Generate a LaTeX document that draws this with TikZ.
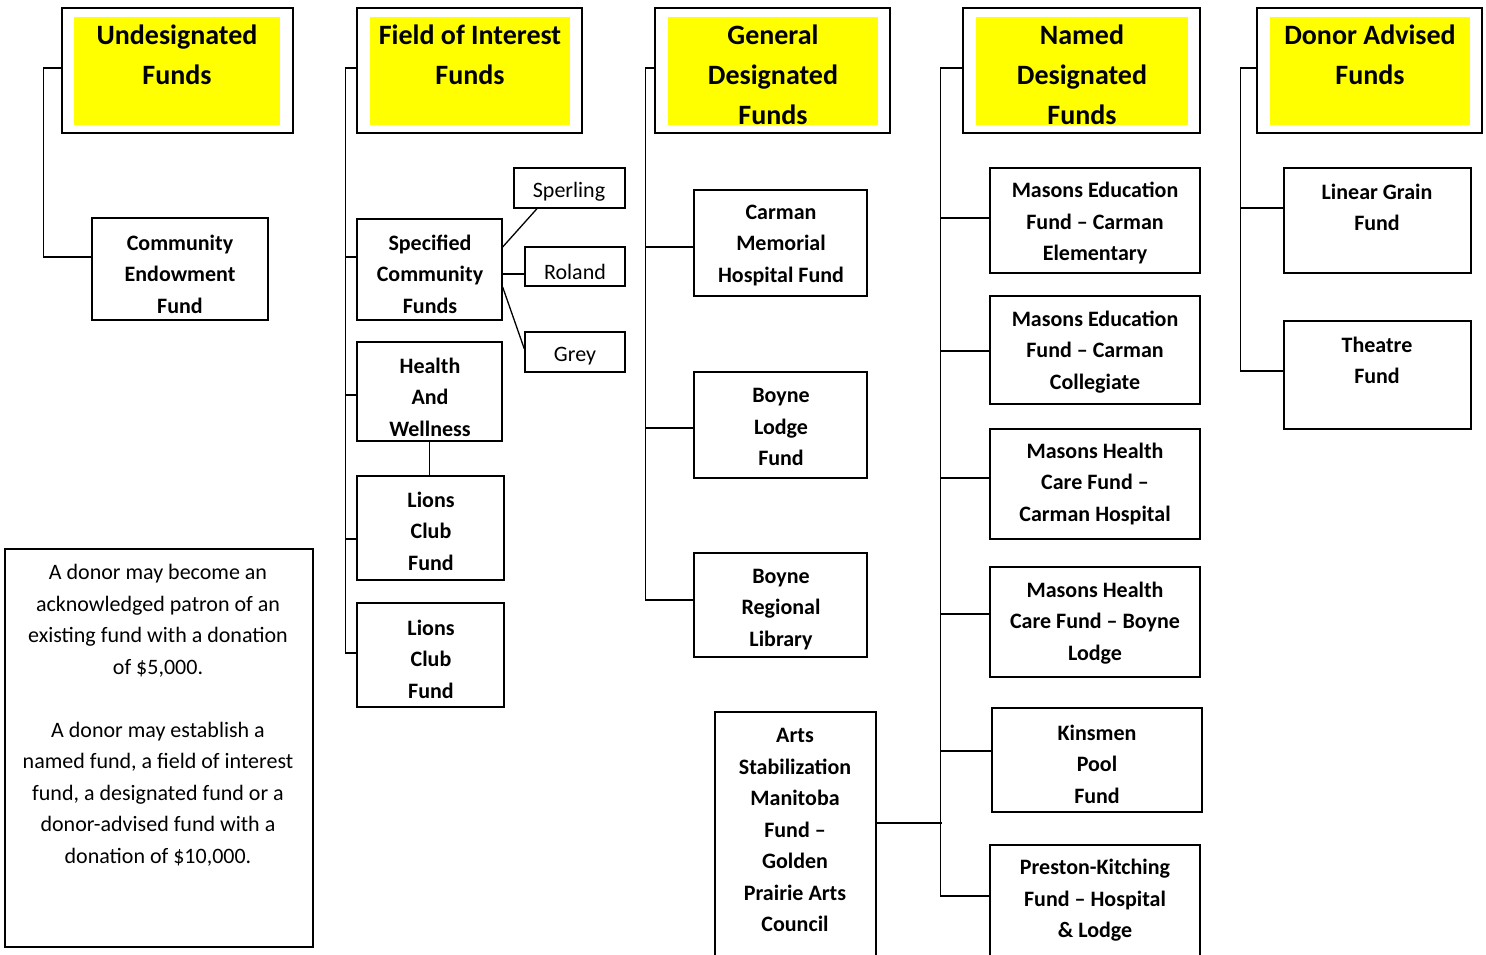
\documentclass[tikz,border=0pt]{standalone}
\usepackage{fontspec}
\setmainfont{Carlito}
\definecolor{hy}{HTML}{FFFF00}
\begin{document}
\begin{tikzpicture}[x=1pt,y=-1pt,
  box/.style={draw=black,line width=1.3pt,fill=white,inner sep=0pt,rectangle},
  ybox/.style={fill=hy,draw=none,inner sep=0pt,rectangle},
  conn/.style={draw=black,line width=1.3pt},
  htxt/.style={font=\fontsize{28}{40}\selectfont\bfseries,align=center,inner sep=0pt},
  btxt/.style={font=\fontsize{22}{31.5}\selectfont\bfseries,align=center,inner sep=0pt,yshift=-1.5pt},
  rtxt/.style={font=\fontsize{22}{31.5}\selectfont,align=center,inner sep=0pt,yshift=-1.5pt}]
\useasboundingbox (0,0) rectangle (1486,954);
\newcommand\mkbox[6][box]{\node[#1,minimum width={(#5-#3)*1pt},minimum height={(#6-#4)*1pt}] (#2) at ({(#3+#5)/2},{(#4+#6)/2}) {};}
% headers
\mkbox{h1}{62}{8}{293}{133}\mkbox[ybox]{h1y}{74}{17}{280}{125}
\node[htxt] (h1t) at (177,55) {Undesignated\\Funds};
\mkbox{h2}{357}{8}{582}{133}\mkbox[ybox]{h2y}{370}{17}{570}{125}
\node[htxt] (h2t) at (470,55) {Field of Interest\\Funds};
\mkbox{h3}{655}{8}{890}{133}\mkbox[ybox]{h3y}{668}{17}{878}{125}
\node[htxt] (h3t) at (773,75) {General\\Designated\\Funds};
\mkbox{h4}{963}{8}{1200}{133}\mkbox[ybox]{h4y}{976}{17}{1188}{125}
\node[htxt] (h4t) at (1082,75) {Named\\Designated\\Funds};
\mkbox{h5}{1257}{8}{1482}{133}\mkbox[ybox]{h5y}{1270}{17}{1470}{125}
\node[htxt] (h5t) at (1370,55) {Donor Advised\\Funds};
% boxes
\mkbox{ce}{92}{218}{268}{320}
\node[btxt] (cet) at (180,272.5) {Community\\Endowment\\Fund};
\mkbox{sc}{357}{219}{502}{320}
\node[btxt] (sct) at (430,272.5) {Specified\\Community\\Funds};
\mkbox{hw}{357}{342}{502}{441}
\node[btxt] (hwt) at (430,395.5) {Health\\And\\Wellness};
\mkbox{lc1}{357}{476}{504}{580}
\node[btxt] (lc1t) at (431,529.5) {Lions\\Club\\Fund};
\mkbox{lc2}{357}{603}{504}{707}
\node[btxt] (lc2t) at (431,657.5) {Lions\\Club\\Fund};
\mkbox{sp}{514}{168}{625}{208}
\node[rtxt] (spt) at (569,190) {Sperling};
\mkbox{ro}{525}{247}{625}{286}
\node[rtxt] (rot) at (575,270) {Roland};
\mkbox{gr}{525}{332}{625}{372}
\node[rtxt] (grt) at (575,355) {Grey};
\mkbox{cm}{694}{190}{867}{296}
\node[btxt] (cmt) at (781,244) {Carman\\Memorial\\Hospital Fund};
\mkbox{bl}{694}{372}{867}{478}
\node[btxt] (blt) at (781,425.5) {Boyne\\Lodge\\Fund};
\mkbox{br}{694}{553}{867}{657}
\node[btxt] (brt) at (781,608) {Boyne\\Regional\\Library};
\mkbox{arts}{715}{712}{876}{970}
\node[btxt] (artst) at (795,828.5) {Arts\\Stabilization\\Manitoba\\Fund –\\Golden\\Prairie Arts\\Council};
\mkbox{m1}{990}{168}{1200}{273}
\node[btxt] (m1t) at (1095,221.5) {Masons Education\\Fund – Carman\\Elementary};
\mkbox{m2}{990}{296}{1200}{404}
\node[btxt] (m2t) at (1095,350.5) {Masons Education\\Fund – Carman\\Collegiate};
\mkbox{m3}{990}{429}{1200}{539}
\node[btxt] (m3t) at (1095,482.5) {Masons Health\\Care Fund –\\Carman Hospital};
\mkbox{m4}{990}{567}{1200}{677}
\node[btxt] (m4t) at (1095,621.5) {Masons Health\\Care Fund – Boyne\\Lodge};
\mkbox{m5}{992}{708}{1202}{812}
\node[btxt] (m5t) at (1097,762.5) {Kinsmen\\Pool\\Fund};
\mkbox{m6}{990}{845}{1200}{970}
\node[btxt] (m6t) at (1095,899) {Preston-Kitching\\Fund – Hospital\\\& Lodge};
\mkbox{lg}{1284}{168}{1471}{273}
\node[btxt] (lgt) at (1377,206) {Linear Grain\\Fund};
\mkbox{th}{1284}{321}{1471}{429}
\node[btxt] (tht) at (1377,359) {Theatre\\Fund};
\mkbox{note}{5}{549}{313}{947}
\node[rtxt] (notet) at (158,714) {A donor may become an\\acknowledged patron of an\\existing fund with a donation\\of \$5,000.\\[31.5pt]A donor may establish a\\named fund, a field of interest\\fund, a designated fund or a\\donor-advised fund with a\\donation of \$10,000.};
% connectors column 1
\draw[conn] ([yshift=2.5pt]h1.west) -- ++(-18,0) |- ([yshift=12pt]ce.west);
% column 2
\draw[conn] ([yshift=2.5pt]h2.west) -| ([xshift=-11pt,yshift=2pt]lc2.west) -- ([yshift=2pt]lc2.west);
\draw[conn] ([yshift=12.5pt]sc.west) -- ++(-11,0);
\draw[conn] ([yshift=-3.5pt]hw.west) -- ++(-11,0);
\draw[conn] ([yshift=-11pt]lc1.west) -- ++(-11,0);
\draw[conn] (hw.south) -- (hw.south |- lc1.north);
\draw[conn] ([yshift=22.5pt]sc.east) -- ([xshift=-32.5pt]sp.south);
\draw[conn] ([yshift=-7.5pt]ro.west) -- ([yshift=-7.5pt]ro.west -| sc.east);
\draw[conn] ([yshift=-17.5pt]sc.east) -- ([yshift=3pt]gr.west);
% column 3
\draw[conn] ([yshift=2.5pt]h3.west) -| ([xshift=-48pt,yshift=5pt]br.west) -- ([yshift=5pt]br.west);
\draw[conn] ([yshift=-4pt]cm.west) -- ++(-48,0);
\draw[conn] ([yshift=-3pt]bl.west) -- ++(-48,0);
% column 4
\draw[conn] ([yshift=2.5pt]h4.west) -| ([xshift=-49pt,yshift=11.5pt]m6.west) -- ([yshift=11.5pt]m6.west);
\draw[conn] ([yshift=2.5pt]m1.west) -- ++(-49,0);
\draw[conn] ([yshift=-1pt]m2.west) -- ++(-49,0);
\draw[conn] ([yshift=6pt]m3.west) -- ++(-49,0);
\draw[conn] ([yshift=8pt]m4.west) -- ++(-49,0);
\draw[conn] ([yshift=9pt]m5.west) -- ++(-51,0);
\draw[conn] ([yshift=18pt]arts.east) -- ++(65,0);
% column 5
\draw[conn] ([yshift=2.5pt]h5.west) -| ([xshift=-43pt,yshift=4pt]th.west) -- ([yshift=4pt]th.west);
\draw[conn] ([yshift=12.5pt]lg.west) -- ++(-43,0);
\end{tikzpicture}
\end{document}
